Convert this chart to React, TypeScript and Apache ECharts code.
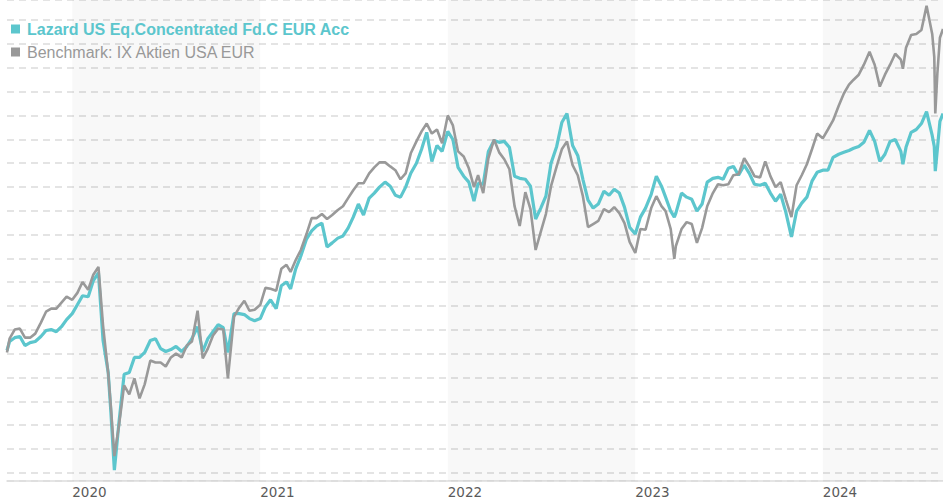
import { useEffect, useRef } from 'react';
import * as echarts from 'echarts';

const FUND_NAME = 'Lazard US Eq.Concentrated Fd.C EUR Acc';
const BENCH_NAME = 'Benchmark: IX Aktien USA EUR';

const dates = [
  '2019-08-27','2019-09-01','2019-09-11','2019-09-21','2019-10-01','2019-10-11','2019-10-21','2019-11-01','2019-11-11','2019-11-21','2019-12-01','2019-12-11','2019-12-21',
  '2020-01-01','2020-01-11','2020-01-21','2020-02-01','2020-02-11','2020-02-21','2020-03-01','2020-03-11','2020-03-16','2020-03-23','2020-04-01','2020-04-11','2020-04-21',
  '2020-05-01','2020-05-11','2020-05-21','2020-06-01','2020-06-11','2020-06-21','2020-07-01','2020-07-11','2020-07-21','2020-08-01','2020-08-11','2020-08-21',
  '2020-09-01','2020-09-11','2020-09-21','2020-10-01','2020-10-11','2020-10-21','2020-10-30','2020-11-11','2020-11-21','2020-12-01','2020-12-11','2020-12-21',
  '2021-01-01','2021-01-11','2021-01-21','2021-02-01','2021-02-11','2021-02-21','2021-03-01','2021-03-11','2021-03-21','2021-04-01','2021-04-11','2021-04-21',
  '2021-05-01','2021-05-11','2021-05-21','2021-06-01','2021-06-11','2021-06-21','2021-07-01','2021-07-11','2021-07-21','2021-08-01','2021-08-11','2021-08-21',
  '2021-09-01','2021-09-11','2021-09-21','2021-10-01','2021-10-11','2021-10-21','2021-11-01','2021-11-11','2021-11-21','2021-12-01','2021-12-11','2021-12-21',
  '2022-01-01','2022-01-11','2022-01-21','2022-02-01','2022-02-11','2022-02-21','2022-03-01','2022-03-11','2022-03-21','2022-04-01','2022-04-11','2022-04-21',
  '2022-05-01','2022-05-11','2022-05-21','2022-06-01','2022-06-11','2022-06-21','2022-07-01','2022-07-11','2022-07-21','2022-08-01','2022-08-11','2022-08-21',
  '2022-09-01','2022-09-11','2022-09-21','2022-10-01','2022-10-11','2022-10-21','2022-11-01','2022-11-11','2022-11-21','2022-12-01','2022-12-11','2022-12-21',
  '2023-01-01','2023-01-11','2023-01-21','2023-02-01','2023-02-11','2023-02-21','2023-03-01','2023-03-11','2023-03-18','2023-03-21','2023-04-01','2023-04-11','2023-04-21',
  '2023-05-01','2023-05-11','2023-05-21','2023-06-01','2023-06-11','2023-06-21','2023-07-01','2023-07-11','2023-07-21','2023-08-01','2023-08-11','2023-08-21',
  '2023-09-01','2023-09-11','2023-09-21','2023-10-01','2023-10-11','2023-10-21','2023-11-01','2023-11-11','2023-11-21','2023-12-01','2023-12-11','2023-12-21',
  '2024-01-01','2024-01-11','2024-01-21','2024-02-01','2024-02-11','2024-02-21','2024-03-01','2024-03-11','2024-03-21','2024-04-01','2024-04-11','2024-04-21',
  '2024-05-01','2024-05-11','2024-05-21','2024-06-01','2024-06-05','2024-06-11','2024-06-21','2024-07-01','2024-07-11','2024-07-21',
  '2024-08-01','2024-08-05','2024-08-07','2024-08-11','2024-08-16','2024-08-22',
];

const fundValues = [
  101.3,105.1,106.7,107.2,103.4,104.6,105.1,107.2,109.7,110.1,109.2,111.3,114.3,
  116.8,120.5,124.3,123.9,130.6,133.9,105.5,92.1,76.2,51.1,71.2,91.3,92.1,
  98.4,98.4,100.5,105.5,106.3,102.1,100.9,101.7,103.0,100.9,103.0,106.3,
  111.3,100.9,106.3,109.2,112.2,110.9,100.5,116.8,116.8,116.4,114.7,113.8,
  114.7,119.7,122.6,118.9,128.5,130.1,127.2,135.6,141.0,148.1,151.5,153.6,
  154.8,144.8,146.5,148.5,149.4,152.7,157.3,162.8,158.2,165.3,167.4,169.9,
  172.0,170.3,166.5,165.7,169.9,175.7,179.9,185.8,192.9,180.7,187.4,184.9,
  193.3,189.9,178.2,174.5,172.0,164.0,171.5,171.1,184.9,189.5,188.7,189.1,
  186.6,174.5,173.6,173.2,170.3,156.5,161.1,166.1,179.9,187.0,197.0,200.8,
  187.4,183.2,173.2,164.4,161.1,162.8,168.2,166.5,169.0,167.4,161.5,153.1,
  150.2,157.3,161.1,166.9,174.5,170.3,165.7,159.8,157.3,159.0,167.4,165.7,164.8,
  159.8,162.8,172.0,173.6,174.0,173.2,177.8,178.6,174.9,179.1,175.7,171.1,
  170.7,171.5,167.4,164.0,166.9,159.4,149.0,159.8,163.2,165.7,172.4,176.1,
  177.0,177.0,182.4,183.7,184.5,185.3,186.2,187.0,188.7,193.7,189.1,180.7,
  183.7,189.1,189.9,184.9,179.5,186.6,192.9,194.1,196.6,201.6,
  191.6,187.0,176.6,185.8,197.5,200.8,
];

const benchmarkValues = [
  100.5,106.3,110.1,110.5,106.7,106.7,108.4,113.0,117.6,118.9,118.9,121.4,123.9,
  122.6,125.5,130.1,126.8,133.1,136.4,111.8,91.7,78.3,57.0,69.9,86.7,82.9,
  89.6,81.2,87.1,97.1,96.3,96.3,94.6,98.4,100.0,98.4,103.4,105.1,
  118.0,98.0,102.1,107.6,110.5,110.1,89.6,115.5,119.3,122.2,118.0,118.4,
  120.5,127.6,127.2,126.4,135.6,137.3,134.3,139.3,143.5,150.2,156.9,156.9,
  158.6,156.5,158.2,160.3,161.9,165.3,168.6,171.5,171.5,175.7,178.2,180.3,
  180.3,178.6,177.0,173.2,175.7,184.1,189.1,193.3,196.6,192.4,194.1,188.3,
  200.0,195.8,184.9,182.8,177.8,169.9,174.9,167.4,182.0,189.9,184.5,181.6,
  177.4,161.9,153.6,167.8,160.7,143.5,151.1,158.6,170.3,178.6,185.8,189.1,
  179.1,174.9,166.1,153.1,154.4,155.7,160.7,159.4,161.5,159.0,154.8,146.9,
  142.3,152.3,152.0,161.1,166.1,161.9,159.8,152.3,139.8,145.2,152.3,155.2,154.4,
  146.5,152.7,161.9,167.4,171.1,170.7,171.1,174.9,175.3,182.0,178.6,174.5,
  174.0,180.7,174.5,169.9,172.0,164.8,157.3,170.7,174.9,179.5,185.8,192.4,
  190.4,194.1,197.9,204.1,209.2,212.9,215.0,217.1,221.3,226.7,221.3,212.1,
  217.1,221.3,225.9,223.4,219.6,228.4,233.8,234.2,235.9,246.0,
  234.2,224.6,200.8,217.5,232.6,236.3,
];

const shadedYears = [
  ['2020-01-01', '2021-01-01'],
  ['2022-01-01', '2023-01-01'],
  ['2024-01-01', '2024-08-22'],
];

const X_MIN = '2019-08-27';
const X_MAX = '2024-08-22';
const Y_MIN = 46.53;
const Y_MAX = 248.46;

const FUND_COLOR = '#5cc6cd';
const BENCH_COLOR = '#999999';

export default function App() {
  const ref = useRef<HTMLDivElement>(null);

  useEffect(() => {
    if (!ref.current) return;
    const chart = echarts.init(ref.current, null, { renderer: 'svg' });
    const fundData = dates.map((d, i) => [d, fundValues[i]]);
    const benchData = dates.map((d, i) => [d, benchmarkValues[i]]);

    chart.setOption({
      animation: false,
      backgroundColor: '#ffffff',
      grid: { left: 7, right: 0, top: -2, bottom: 19, containLabel: false },
      legend: {
        orient: 'vertical',
        left: 11,
        top: 20,
        padding: 0,
        itemGap: 5,
        itemWidth: 9,
        itemHeight: 9,
        icon: 'rect',
        selectedMode: false,
        textStyle: {
          fontFamily: 'Liberation Sans, Arial, sans-serif',
          fontSize: 16,
          lineHeight: 18,
          padding: [0, 0, 0, 2],
        },
        data: [
          { name: FUND_NAME, textStyle: { color: FUND_COLOR, fontWeight: 'bold' } },
          { name: BENCH_NAME, textStyle: { color: BENCH_COLOR, fontWeight: 'normal' } },
        ],
      },
      xAxis: {
        type: 'time',
        min: X_MIN,
        max: X_MAX,
        splitNumber: 5,
        axisLine: { show: true, lineStyle: { color: '#dddddd', width: 1.5 } },
        axisTick: { show: false },
        splitLine: { show: false },
        axisLabel: {
          show: true,
          align: 'left',
          margin: 4,
          color: '#5a5a5a',
          fontFamily: 'DejaVu Sans, sans-serif',
          fontSize: 13.5,
          hideOverlap: false,
          showMinLabel: false,
          showMaxLabel: false,
          formatter: (val: number) => {
            const d = new Date(val);
            if (d.getMonth() === 0 && d.getDate() === 1) return String(d.getFullYear());
            return '';
          },
        },
      },
      yAxis: {
        type: 'value',
        min: Y_MIN,
        max: Y_MAX,
        splitNumber: 20,
        axisLine: { show: false },
        axisTick: { show: false },
        axisLabel: { show: false },
        splitLine: { show: true, lineStyle: { color: '#dcdcdc', width: 1.5, type: [7, 5] } },
      },
      series: [
        {
          name: FUND_NAME,
          type: 'line',
          data: fundData,
          showSymbol: false,
          symbol: 'none',
          color: FUND_COLOR,
          lineStyle: { color: FUND_COLOR, width: 3.2 },
          z: 2,
          markArea: {
            silent: true,
            itemStyle: { color: 'rgba(0,0,0,0.028)' },
            data: shadedYears.map(([a, b]) => [{ xAxis: a }, { xAxis: b }]),
          },
        },
        {
          name: BENCH_NAME,
          type: 'line',
          data: benchData,
          showSymbol: false,
          symbol: 'none',
          color: BENCH_COLOR,
          lineStyle: { color: BENCH_COLOR, width: 2.6 },
          z: 3,
        },
      ],
    });

    return () => chart.dispose();
  }, []);

  return (
    <div
      ref={ref}
      style={{ position: 'fixed', left: 0, top: 0, width: 943, height: 500 }}
    />
  );
}
